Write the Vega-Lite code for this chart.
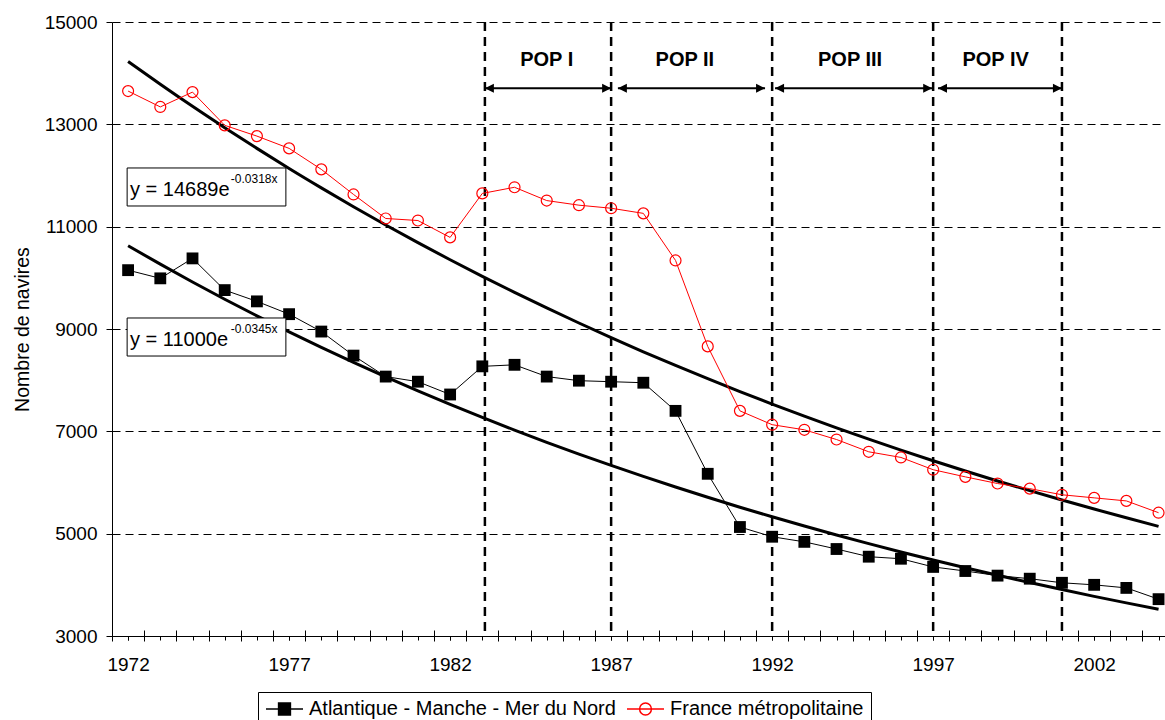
{
  "$schema": "https://vega.github.io/schema/vega-lite/v6.json",
  "width": 1053,
  "height": 614,
  "autosize": {"type": "none"},
  "padding": {"left": 112, "top": 22, "right": 0, "bottom": 84},
  "background": "white",
  "config": {
    "font": "Liberation Sans",
    "view": {"stroke": null},
    "axis": {"labelFont": "Liberation Sans", "titleFont": "Liberation Sans"}
  },
  "datasets": {
    "obs": [
      {"year": 1972, "series": "Atlantique - Manche - Mer du Nord", "value": 10150},
      {"year": 1973, "series": "Atlantique - Manche - Mer du Nord", "value": 9990},
      {"year": 1974, "series": "Atlantique - Manche - Mer du Nord", "value": 10380},
      {"year": 1975, "series": "Atlantique - Manche - Mer du Nord", "value": 9760},
      {"year": 1976, "series": "Atlantique - Manche - Mer du Nord", "value": 9540},
      {"year": 1977, "series": "Atlantique - Manche - Mer du Nord", "value": 9290},
      {"year": 1978, "series": "Atlantique - Manche - Mer du Nord", "value": 8950},
      {"year": 1979, "series": "Atlantique - Manche - Mer du Nord", "value": 8480},
      {"year": 1980, "series": "Atlantique - Manche - Mer du Nord", "value": 8070},
      {"year": 1981, "series": "Atlantique - Manche - Mer du Nord", "value": 7970},
      {"year": 1982, "series": "Atlantique - Manche - Mer du Nord", "value": 7720},
      {"year": 1983, "series": "Atlantique - Manche - Mer du Nord", "value": 8270},
      {"year": 1984, "series": "Atlantique - Manche - Mer du Nord", "value": 8300},
      {"year": 1985, "series": "Atlantique - Manche - Mer du Nord", "value": 8070},
      {"year": 1986, "series": "Atlantique - Manche - Mer du Nord", "value": 7990},
      {"year": 1987, "series": "Atlantique - Manche - Mer du Nord", "value": 7970},
      {"year": 1988, "series": "Atlantique - Manche - Mer du Nord", "value": 7950},
      {"year": 1989, "series": "Atlantique - Manche - Mer du Nord", "value": 7400},
      {"year": 1990, "series": "Atlantique - Manche - Mer du Nord", "value": 6170},
      {"year": 1991, "series": "Atlantique - Manche - Mer du Nord", "value": 5130},
      {"year": 1992, "series": "Atlantique - Manche - Mer du Nord", "value": 4940},
      {"year": 1993, "series": "Atlantique - Manche - Mer du Nord", "value": 4840},
      {"year": 1994, "series": "Atlantique - Manche - Mer du Nord", "value": 4700},
      {"year": 1995, "series": "Atlantique - Manche - Mer du Nord", "value": 4550},
      {"year": 1996, "series": "Atlantique - Manche - Mer du Nord", "value": 4510},
      {"year": 1997, "series": "Atlantique - Manche - Mer du Nord", "value": 4350},
      {"year": 1998, "series": "Atlantique - Manche - Mer du Nord", "value": 4270},
      {"year": 1999, "series": "Atlantique - Manche - Mer du Nord", "value": 4180},
      {"year": 2000, "series": "Atlantique - Manche - Mer du Nord", "value": 4120},
      {"year": 2001, "series": "Atlantique - Manche - Mer du Nord", "value": 4040},
      {"year": 2002, "series": "Atlantique - Manche - Mer du Nord", "value": 4000},
      {"year": 2003, "series": "Atlantique - Manche - Mer du Nord", "value": 3940},
      {"year": 2004, "series": "Atlantique - Manche - Mer du Nord", "value": 3720},
      {"year": 1972, "series": "France métropolitaine", "value": 13650},
      {"year": 1973, "series": "France métropolitaine", "value": 13340},
      {"year": 1974, "series": "France métropolitaine", "value": 13630},
      {"year": 1975, "series": "France métropolitaine", "value": 12980},
      {"year": 1976, "series": "France métropolitaine", "value": 12770},
      {"year": 1977, "series": "France métropolitaine", "value": 12530},
      {"year": 1978, "series": "France métropolitaine", "value": 12120},
      {"year": 1979, "series": "France métropolitaine", "value": 11630},
      {"year": 1980, "series": "France métropolitaine", "value": 11160},
      {"year": 1981, "series": "France métropolitaine", "value": 11120},
      {"year": 1982, "series": "France métropolitaine", "value": 10790},
      {"year": 1983, "series": "France métropolitaine", "value": 11650},
      {"year": 1984, "series": "France métropolitaine", "value": 11770},
      {"year": 1985, "series": "France métropolitaine", "value": 11510},
      {"year": 1986, "series": "France métropolitaine", "value": 11420},
      {"year": 1987, "series": "France métropolitaine", "value": 11360},
      {"year": 1988, "series": "France métropolitaine", "value": 11260},
      {"year": 1989, "series": "France métropolitaine", "value": 10340},
      {"year": 1990, "series": "France métropolitaine", "value": 8660},
      {"year": 1991, "series": "France métropolitaine", "value": 7400},
      {"year": 1992, "series": "France métropolitaine", "value": 7130},
      {"year": 1993, "series": "France métropolitaine", "value": 7030},
      {"year": 1994, "series": "France métropolitaine", "value": 6840},
      {"year": 1995, "series": "France métropolitaine", "value": 6600},
      {"year": 1996, "series": "France métropolitaine", "value": 6490},
      {"year": 1997, "series": "France métropolitaine", "value": 6250},
      {"year": 1998, "series": "France métropolitaine", "value": 6110},
      {"year": 1999, "series": "France métropolitaine", "value": 5980},
      {"year": 2000, "series": "France métropolitaine", "value": 5880},
      {"year": 2001, "series": "France métropolitaine", "value": 5760},
      {"year": 2002, "series": "France métropolitaine", "value": 5700},
      {"year": 2003, "series": "France métropolitaine", "value": 5640},
      {"year": 2004, "series": "France métropolitaine", "value": 5410}
    ],
    "trend": [
      {"year": 1972, "series": "Atlantique", "value": 10627},
      {"year": 1973, "series": "Atlantique", "value": 10267},
      {"year": 1974, "series": "Atlantique", "value": 9919},
      {"year": 1975, "series": "Atlantique", "value": 9582},
      {"year": 1976, "series": "Atlantique", "value": 9257},
      {"year": 1977, "series": "Atlantique", "value": 8943},
      {"year": 1978, "series": "Atlantique", "value": 8640},
      {"year": 1979, "series": "Atlantique", "value": 8347},
      {"year": 1980, "series": "Atlantique", "value": 8064},
      {"year": 1981, "series": "Atlantique", "value": 7791},
      {"year": 1982, "series": "Atlantique", "value": 7526},
      {"year": 1983, "series": "Atlantique", "value": 7271},
      {"year": 1984, "series": "Atlantique", "value": 7025},
      {"year": 1985, "series": "Atlantique", "value": 6786},
      {"year": 1986, "series": "Atlantique", "value": 6556},
      {"year": 1987, "series": "Atlantique", "value": 6334},
      {"year": 1988, "series": "Atlantique", "value": 6119},
      {"year": 1989, "series": "Atlantique", "value": 5912},
      {"year": 1990, "series": "Atlantique", "value": 5711},
      {"year": 1991, "series": "Atlantique", "value": 5517},
      {"year": 1992, "series": "Atlantique", "value": 5330},
      {"year": 1993, "series": "Atlantique", "value": 5150},
      {"year": 1994, "series": "Atlantique", "value": 4975},
      {"year": 1995, "series": "Atlantique", "value": 4806},
      {"year": 1996, "series": "Atlantique", "value": 4643},
      {"year": 1997, "series": "Atlantique", "value": 4486},
      {"year": 1998, "series": "Atlantique", "value": 4334},
      {"year": 1999, "series": "Atlantique", "value": 4187},
      {"year": 2000, "series": "Atlantique", "value": 4045},
      {"year": 2001, "series": "Atlantique", "value": 3908},
      {"year": 2002, "series": "Atlantique", "value": 3775},
      {"year": 2003, "series": "Atlantique", "value": 3647},
      {"year": 2004, "series": "Atlantique", "value": 3523},
      {"year": 1972, "series": "France", "value": 14229},
      {"year": 1973, "series": "France", "value": 13784},
      {"year": 1974, "series": "France", "value": 13352},
      {"year": 1975, "series": "France", "value": 12935},
      {"year": 1976, "series": "France", "value": 12530},
      {"year": 1977, "series": "France", "value": 12137},
      {"year": 1978, "series": "France", "value": 11758},
      {"year": 1979, "series": "France", "value": 11390},
      {"year": 1980, "series": "France", "value": 11033},
      {"year": 1981, "series": "France", "value": 10688},
      {"year": 1982, "series": "France", "value": 10353},
      {"year": 1983, "series": "France", "value": 10029},
      {"year": 1984, "series": "France", "value": 9715},
      {"year": 1985, "series": "France", "value": 9411},
      {"year": 1986, "series": "France", "value": 9117},
      {"year": 1987, "series": "France", "value": 8831},
      {"year": 1988, "series": "France", "value": 8555},
      {"year": 1989, "series": "France", "value": 8287},
      {"year": 1990, "series": "France", "value": 8028},
      {"year": 1991, "series": "France", "value": 7776},
      {"year": 1992, "series": "France", "value": 7533},
      {"year": 1993, "series": "France", "value": 7297},
      {"year": 1994, "series": "France", "value": 7069},
      {"year": 1995, "series": "France", "value": 6848},
      {"year": 1996, "series": "France", "value": 6633},
      {"year": 1997, "series": "France", "value": 6426},
      {"year": 1998, "series": "France", "value": 6225},
      {"year": 1999, "series": "France", "value": 6030},
      {"year": 2000, "series": "France", "value": 5841},
      {"year": 2001, "series": "France", "value": 5658},
      {"year": 2002, "series": "France", "value": 5481},
      {"year": 2003, "series": "France", "value": 5310},
      {"year": 2004, "series": "France", "value": 5143}
    ],
    "periods": [{"year": 1983.08}, {"year": 1987}, {"year": 1992}, {"year": 1997}, {"year": 2001}],
    "arrows": [
      {"start": 1983.08, "end": 1987, "value": 13704},
      {"start": 1987.21, "end": 1991.78, "value": 13704},
      {"start": 1992.09, "end": 1996.97, "value": 13704},
      {"start": 1997.15, "end": 2001, "value": 13704}
    ],
    "pops": [
      {"year": 1985.0, "value": 14257, "label": "POP I"},
      {"year": 1989.29, "value": 14257, "label": "POP II"},
      {"year": 1994.42, "value": 14257, "label": "POP III"},
      {"year": 1998.94, "value": 14257, "label": "POP IV"}
    ],
    "eqbox": [
      {"x1": 1971.97, "x2": 1976.9, "value": 12147, "bottom": 11404},
      {"x1": 1971.97, "x2": 1976.9, "value": 9215, "bottom": 8472}
    ],
    "eqmain": [
      {"year": 1972.06, "value": 11599, "label": "y = 14689e"},
      {"year": 1972.06, "value": 8668, "label": "y = 11000e"}
    ],
    "eqsup": [
      {"year": 1975.19, "value": 11853, "label": "-0.0318x"},
      {"year": 1975.19, "value": 8922, "label": "-0.0345x"}
    ]
  },
  "resolve": {"scale": {"x": "independent"}},
  "layer": [
    {
      "data": {"name": "periods"},
      "mark": {"type": "rule", "color": "black", "strokeWidth": 2.5, "strokeDash": [9, 6]},
      "encoding": {
        "x": {"field": "year", "type": "quantitative", "scale": {"domain": [1971.5, 2004.2], "nice": false, "zero": false},
          "axis": {"orient": "bottom", "title": null, "values": [1972, 1973, 1974, 1975, 1976, 1977, 1978, 1979, 1980, 1981, 1982, 1983, 1984, 1985, 1986, 1987, 1988, 1989, 1990, 1991, 1992, 1993, 1994, 1995, 1996, 1997, 1998, 1999, 2000, 2001, 2002, 2003, 2004],
            "labels": false, "domain": false, "grid": false, "tickSize": 4, "tickColor": "black", "tickWidth": 1}}
      }
    },
    {
      "data": {"name": "trend"},
      "mark": {"type": "line", "color": "black", "strokeWidth": 3, "interpolate": "monotone"},
      "encoding": {
        "x": {"field": "year", "type": "quantitative", "scale": {"domain": [1971.5, 2004.2], "nice": false, "zero": false},
          "axis": {"orient": "bottom", "title": null, "values": [1971.5, 1972.5, 1973.5, 1974.5, 1975.5, 1976.5, 1977.5, 1978.5, 1979.5, 1980.5, 1981.5, 1982.5, 1983.5, 1984.5, 1985.5, 1986.5, 1987.5, 1988.5, 1989.5, 1990.5, 1991.5, 1992.5, 1993.5, 1994.5, 1995.5, 1996.5, 1997.5, 1998.5, 1999.5, 2000.5, 2001.5, 2002.5, 2003.5],
            "labels": false, "domain": false, "grid": false, "tickSize": 5, "tickColor": "black", "tickWidth": 1}},
        "y": {"field": "value", "type": "quantitative", "scale": {"domain": [3000, 15000], "nice": false, "zero": false},
          "axis": {"orient": "left", "title": "Nombre de navires", "values": [3000, 5000, 7000, 9000, 11000, 13000, 15000], "format": "d",
            "tickSize": 6, "tickColor": "black", "domainColor": "black", "labelFontSize": 19, "labelColor": "black", "labelPadding": 9,
            "grid": true, "gridColor": "black", "gridDash": [8, 5], "gridWidth": 1, "gridOpacity": 1,
            "titleFontSize": 19.5, "titleFontWeight": "normal", "titleColor": "black", "titlePadding": 12}},
        "detail": {"field": "series", "type": "nominal"}
      }
    },
    {
      "data": {"name": "obs"},
      "transform": [{"filter": "datum.series === 'Atlantique - Manche - Mer du Nord'"}],
      "mark": {"type": "line", "color": "black", "strokeWidth": 1},
      "encoding": {
        "x": {"field": "year", "type": "quantitative", "scale": {"domain": [1971.5, 2004.2], "nice": false, "zero": false},
          "axis": {"orient": "bottom", "title": null, "values": [1972, 1977, 1982, 1987, 1992, 1997, 2002], "format": "d",
            "grid": false, "tickSize": 4, "tickColor": "black", "domain": true, "domainColor": "black", "domainWidth": 1,
            "labelFontSize": 19, "labelColor": "black", "labelPadding": 15, "labelFlush": false, "labelOverlap": false}},
        "y": {"field": "value", "type": "quantitative"}
      }
    },
    {
      "data": {"name": "obs"},
      "transform": [{"filter": "datum.series === 'France métropolitaine'"}],
      "mark": {"type": "line", "color": "red", "strokeWidth": 1},
      "encoding": {
        "x": {"field": "year", "type": "quantitative", "scale": {"domain": [1971.5, 2004.2], "nice": false, "zero": false},
          "axis": {"orient": "bottom", "title": null, "values": [1972.5, 1973.5, 1974.5, 1975.5, 1976.5, 1977.5, 1978.5, 1979.5, 1980.5, 1981.5, 1982.5, 1983.5, 1984.5, 1985.5, 1986.5, 1987.5, 1988.5, 1989.5, 1990.5, 1991.5, 1992.5, 1993.5, 1994.5, 1995.5, 1996.5, 1997.5, 1998.5, 1999.5, 2000.5, 2001.5, 2002.5, 2003.5],
            "labels": false, "domain": false, "grid": false, "tickSize": -6, "tickColor": "black", "tickWidth": 1}},
        "y": {"field": "value", "type": "quantitative"}
      }
    },
    {
      "data": {"name": "obs"},
      "transform": [{"filter": "datum.series === 'Atlantique - Manche - Mer du Nord'"}],
      "mark": {"type": "point", "shape": "square", "filled": true, "color": "black", "size": 140, "opacity": 1},
      "encoding": {
        "x": {"field": "year", "type": "quantitative", "scale": {"domain": [1971.5, 2004.2], "nice": false, "zero": false}, "axis": null},
        "y": {"field": "value", "type": "quantitative"}
      }
    },
    {
      "data": {"name": "obs"},
      "transform": [{"filter": "datum.series === 'France métropolitaine'"}],
      "mark": {"type": "point", "shape": "circle", "filled": false, "stroke": "red", "strokeWidth": 1.2, "size": 120, "opacity": 1},
      "encoding": {
        "x": {"field": "year", "type": "quantitative", "scale": {"domain": [1971.5, 2004.2], "nice": false, "zero": false}, "axis": null},
        "y": {"field": "value", "type": "quantitative"}
      }
    },
    {
      "data": {"name": "obs"},
      "mark": {"type": "point", "opacity": 0},
      "encoding": {
        "x": {"field": "year", "type": "quantitative", "scale": {"domain": [1971.5, 2004.2], "nice": false, "zero": false}, "axis": null},
        "y": {"field": "value", "type": "quantitative"},
        "shape": {"field": "series", "type": "nominal",
          "scale": {"domain": ["Atlantique - Manche - Mer du Nord", "France métropolitaine"],
            "range": ["M-1,0L1,0M-0.32,-0.32L0.32,-0.32L0.32,0.32L-0.32,0.32Z", "M-1,0L1,0M-0.32,0A0.32,0.32,0,1,0,0.32,0A0.32,0.32,0,1,0,-0.32,0"]},
          "legend": {"title": null, "orient": "none", "legendX": 146, "legendY": 670, "direction": "horizontal", "columns": 2,
            "symbolSize": 1369, "symbolStrokeWidth": 1.5, "symbolOpacity": 1, "clipHeight": 20,
            "labelFontSize": 20, "labelColor": "black", "labelFont": "Liberation Sans", "labelLimit": 500,
            "strokeColor": "black", "fillColor": "white", "padding": 7, "symbolOffset": 0, "labelOffset": 5, "columnPadding": 10, "cornerRadius": 0}},
        "stroke": {"field": "series", "type": "nominal",
          "scale": {"domain": ["Atlantique - Manche - Mer du Nord", "France métropolitaine"], "range": ["black", "red"]},
          "legend": {"title": null, "orient": "none", "legendX": 146, "legendY": 670, "direction": "horizontal", "columns": 2,
            "symbolSize": 1369, "symbolStrokeWidth": 1.5, "symbolOpacity": 1, "clipHeight": 20,
            "labelFontSize": 20, "labelColor": "black", "labelFont": "Liberation Sans", "labelLimit": 500,
            "strokeColor": "black", "fillColor": "white", "padding": 7, "symbolOffset": 0, "labelOffset": 5, "columnPadding": 10, "cornerRadius": 0}},
        "fill": {"field": "series", "type": "nominal",
          "scale": {"domain": ["Atlantique - Manche - Mer du Nord", "France métropolitaine"], "range": ["black", "transparent"]},
          "legend": {"title": null, "orient": "none", "legendX": 146, "legendY": 670, "direction": "horizontal", "columns": 2,
            "symbolSize": 1369, "symbolStrokeWidth": 1.5, "symbolOpacity": 1, "clipHeight": 20,
            "labelFontSize": 20, "labelColor": "black", "labelFont": "Liberation Sans", "labelLimit": 500,
            "strokeColor": "black", "fillColor": "white", "padding": 7, "symbolOffset": 0, "labelOffset": 5, "columnPadding": 10, "cornerRadius": 0}}
      }
    },
    {
      "data": {"name": "eqbox"},
      "mark": {"type": "rect", "fill": "white", "stroke": "black", "strokeWidth": 1},
      "encoding": {
        "x": {"field": "x1", "type": "quantitative", "scale": {"domain": [1971.5, 2004.2], "nice": false, "zero": false}, "axis": null},
        "x2": {"field": "x2"},
        "y": {"field": "value", "type": "quantitative"},
        "y2": {"field": "bottom"}
      }
    },
    {
      "data": {"name": "eqmain"},
      "mark": {"type": "text", "align": "left", "baseline": "alphabetic", "fontSize": 20, "color": "black", "font": "Liberation Sans"},
      "encoding": {
        "x": {"field": "year", "type": "quantitative", "scale": {"domain": [1971.5, 2004.2], "nice": false, "zero": false}, "axis": null},
        "y": {"field": "value", "type": "quantitative"},
        "text": {"field": "label"}
      }
    },
    {
      "data": {"name": "eqsup"},
      "mark": {"type": "text", "align": "left", "baseline": "alphabetic", "fontSize": 12, "color": "black", "font": "Liberation Sans"},
      "encoding": {
        "x": {"field": "year", "type": "quantitative", "scale": {"domain": [1971.5, 2004.2], "nice": false, "zero": false}, "axis": null},
        "y": {"field": "value", "type": "quantitative"},
        "text": {"field": "label"}
      }
    },
    {
      "data": {"name": "pops"},
      "mark": {"type": "text", "align": "center", "baseline": "middle", "fontSize": 20, "fontWeight": "bold", "color": "black", "font": "Liberation Sans"},
      "encoding": {
        "x": {"field": "year", "type": "quantitative", "scale": {"domain": [1971.5, 2004.2], "nice": false, "zero": false}, "axis": null},
        "y": {"field": "value", "type": "quantitative"},
        "text": {"field": "label"}
      }
    },
    {
      "data": {"name": "arrows"},
      "mark": {"type": "rule", "color": "black", "strokeWidth": 2},
      "encoding": {
        "x": {"field": "start", "type": "quantitative", "scale": {"domain": [1971.5, 2004.2], "nice": false, "zero": false}, "axis": null},
        "x2": {"field": "end"},
        "y": {"field": "value", "type": "quantitative"}
      }
    },
    {
      "data": {"name": "arrows"},
      "mark": {"type": "point", "shape": "M0,0L1,-0.5L1,0.5Z", "filled": true, "color": "black", "size": 324, "opacity": 1},
      "encoding": {
        "x": {"field": "start", "type": "quantitative", "scale": {"domain": [1971.5, 2004.2], "nice": false, "zero": false}, "axis": null},
        "y": {"field": "value", "type": "quantitative"}
      }
    },
    {
      "data": {"name": "arrows"},
      "mark": {"type": "point", "shape": "M0,0L-1,-0.5L-1,0.5Z", "filled": true, "color": "black", "size": 324, "opacity": 1},
      "encoding": {
        "x": {"field": "end", "type": "quantitative", "scale": {"domain": [1971.5, 2004.2], "nice": false, "zero": false}, "axis": null},
        "y": {"field": "value", "type": "quantitative"}
      }
    }
  ]
}
